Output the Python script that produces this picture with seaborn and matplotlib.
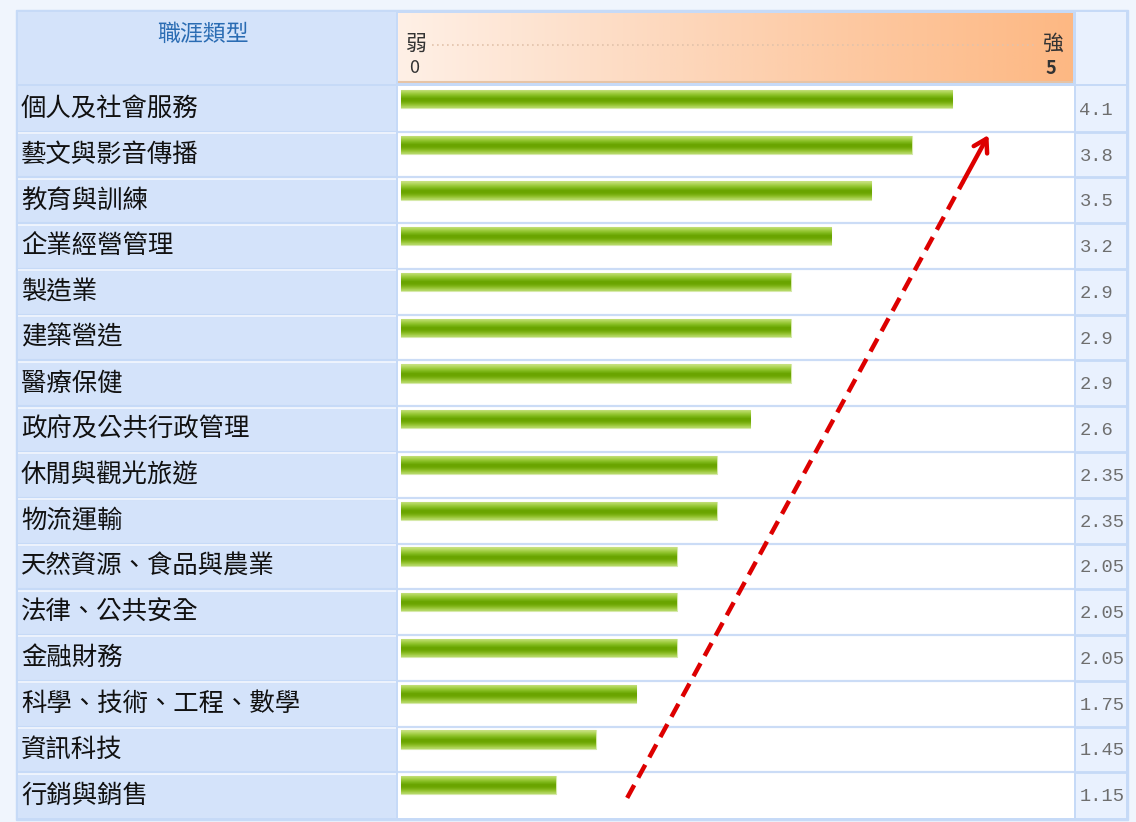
import numpy as np
import matplotlib
matplotlib.use('Agg')
import matplotlib.pyplot as plt
import matplotlib.colors as mcolors
from matplotlib.patches import Rectangle
import seaborn as sns

# datos
careers = ['個人及社會服務', '藝文與影音傳播', '教育與訓練', '企業經營管理', '製造業',
           '建築營造', '醫療保健', '政府及公共行政管理', '休閒與觀光旅遊', '物流運輸',
           '天然資源、食品與農業', '法律、公共安全', '金融財務', '科學、技術、工程、數學',
           '資訊科技', '行銷與銷售']
scores = [4.1, 3.8, 3.5, 3.2, 2.9, 2.9, 2.9, 2.6, 2.35, 2.35, 2.05, 2.05, 2.05, 1.75, 1.45, 1.15]
header_title = '職涯類型'
scale_low, scale_high = '弱', '強'
scale_min, scale_max = 0, 5

sns.set_style('white')
plt.rcParams['font.family'] = ['Noto Sans CJK TC', 'DejaVu Sans']

W, H = 1136, 822
fig = plt.figure(figsize=(W / 100, H / 100), dpi=100, facecolor='#f0f5fd')


def fr(x0, y0, x1, y1):
    # pixel box (top-left origin) -> figure fraction
    return [x0 / W, 1 - y1 / H, (x1 - x0) / W, (y1 - y0) / H]


# table border backdrop
fig.patches.append(Rectangle((16 / W, 1 - 820 / H), (1128 - 16) / W, (820 - 10) / H,
                             transform=fig.transFigure, color='#c6daf7', zorder=-5))

n = len(careers)
ylim = (n - 1 + 0.715, -0.285)

# =====================================================================
# columnas
# =====================================================================
ax_lab = fig.add_axes(fr(18, 86, 396, 818), facecolor='#d4e3fa')
ax = fig.add_axes(fr(398, 86, 1074, 818), facecolor='white')
ax_val = fig.add_axes(fr(1076, 86, 1126, 818), facecolor='#e9f1fe')

sns.barplot(x=scores, y=careers, orient='h', ax=ax, width=0.4, color='#7cb518',
            edgecolor='#d6e9aa', linewidth=0.8)

# green gradient on bars (light top, dark middle, lighter bottom)
grad_cols = ['#c6e07e', '#b3d75e', '#9fcc40', '#8bc027', '#78b212', '#6aa602',
             '#6aa400', '#73ab0a', '#86b920', '#9cc83c', '#b3d764']
grad = np.array([mcolors.to_rgb(c) for c in grad_cols])[:, None, :]
for p in list(ax.patches):
    x0, y0, w, h = p.get_x(), p.get_y(), p.get_width(), p.get_height()
    im = ax.imshow(grad, extent=[x0, x0 + w, y0 + h, y0], origin='upper',
                   aspect='auto', interpolation='bilinear', zorder=p.get_zorder() + 0.1)
    im.set_clip_path(p)

ax.set_xlim(-3 / 134.3, 5 + 1 / 134.3)
for a in (ax, ax_lab, ax_val):
    a.set_ylim(*ylim)
    a.set_xticks([])
    a.set_yticks([])
    a.set_xlabel('')
    a.set_ylabel('')
    for s in a.spines.values():
        s.set_visible(False)
ax_lab.set_xlim(0, 1)
ax_val.set_xlim(0, 1)

for i in range(n - 1):
    yb = i + 0.715
    ax.axhline(yb, color='#cbdcf6', lw=1.6, zorder=0)
    ax_val.axhline(yb, color='#c6daf7', lw=2)
    ax_lab.axhline(yb, color='#c6daf7', lw=2.2)
    ax_lab.axhline(yb + 0.03, color='#f4f8fe', lw=1.2)

for i, (name, v) in enumerate(zip(careers, scores)):
    ax_lab.text(0.008, i + 0.22, name, fontsize=18.3, color='#111111',
                va='center', ha='left')
    ax_val.text(0.07, i + 0.25, f'{v:g}', fontsize=13.5, color='#6e6e6e',
                va='center', ha='left', family='Liberation Mono')

# =====================================================================
# encabezado
# =====================================================================
hl = fig.add_axes(fr(18, 12, 396, 84), facecolor='#d4e3fa')
hg = fig.add_axes(fr(398, 13, 1073, 83))
hr = fig.add_axes(fr(1076, 12, 1126, 84), facecolor='#e9f1fe')
for a in (hl, hg, hr):
    a.set_xticks([])
    a.set_yticks([])
    for s in a.spines.values():
        s.set_visible(False)

hl.set_xlim(0, 1)
hl.set_ylim(1, 0)
hl.text(0.49, 0.31, header_title, fontsize=16.5, color='#2a6cb3', ha='center', va='center')

peach = mcolors.LinearSegmentedColormap.from_list('peach', ['#fff0e6', '#fddcc4', '#fdc9a2', '#fdb883'])
hg.imshow(np.linspace(0, 1, 256)[None, :], cmap=peach, aspect='auto',
          extent=[398, 1073, 83, 13], origin='upper')
hg.set_xlim(398, 1073)
hg.set_ylim(83, 13)
hg.plot([432, 1036], [45, 45], ls=(0, (1, 2)), color='#e2c2aa', lw=1.2)
hg.axhline(82.3, color='#e6c4a6', lw=1.5)
hg.text(416, 44, scale_low, fontsize=15, color='#333333', ha='center', va='center')
hg.text(414, 68, str(scale_min), fontsize=13, color='#333333', ha='center', va='center')
hg.text(1052, 44, scale_high, fontsize=15, color='#333333', ha='center', va='center')
hg.text(1051, 68, str(scale_max), fontsize=13, color='#333333', ha='center', va='center',
        fontweight='bold')

# =====================================================================
# flecha roja
# =====================================================================
x_a, y_a = (627 - 401) / 134.3, (797 - 86) / 45.69 - 0.285
x_b, y_b = (988 - 401) / 134.3, (135 - 86) / 45.69 - 0.285
t = 0.93
x_m, y_m = x_a + (x_b - x_a) * t, y_a + (y_b - y_a) * t
ax.plot([x_a, x_m], [y_a, y_m], color='#dd0000', lw=3.2, ls=(0, (3.3, 1.9)),
        solid_capstyle='butt', zorder=5)
ax.annotate('', xy=(x_b, y_b), xytext=(x_m, y_m),
            arrowprops=dict(arrowstyle='->,head_length=0.9,head_width=0.55',
                            color='#dd0000', lw=3.2, shrinkA=0, shrinkB=0),
            zorder=6)

plt.savefig('out.png', dpi=100, facecolor=fig.get_facecolor())
